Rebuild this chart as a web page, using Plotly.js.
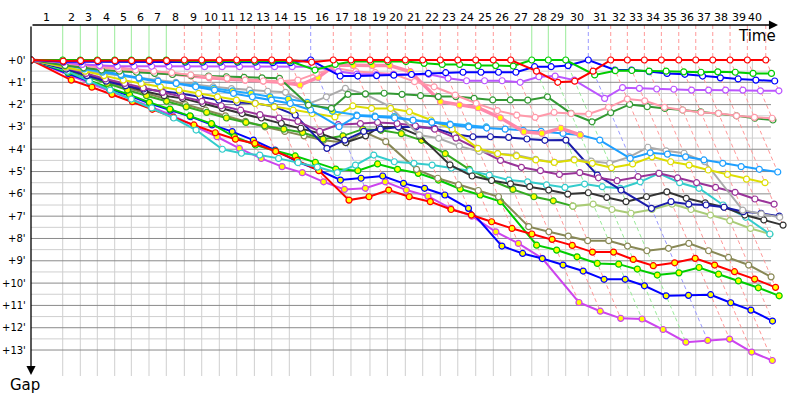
<!DOCTYPE html>
<html><head><meta charset="utf-8">
<script src="https://cdn.plot.ly/plotly-3.0.1.min.js"></script>
<style>html,body{margin:0;padding:0;background:#fff}#chart{width:800px;height:400px}</style>
</head><body><div id="chart"></div>
<script>
// Leader's elapsed time (minutes) at the end of each lap 1..40
const lapTimes = [3.34,5.19,6.98,8.81,10.56,12.42,14.24,16.14,17.97,19.82,
  21.65,23.51,25.34,27.19,29.44,31.82,33.68,35.68,37.51,39.40,
  41.23,43.08,44.92,46.81,48.66,50.49,52.71,54.45,56.28,58.66,
  61.02,62.77,64.56,66.35,68.18,69.97,71.76,73.58,75.40,77.34];
const raceEnd = 75.93;
const lapLabels = ['1','2','3','4','5','6','7','8','9','10','11','12','13','14','15','16','17','18','19','20',
  '21','22','23','24','25','26','27','28','29','30','31','32','33','34','35','36','37','38','39','40'];
const gapTicks = [0,1,2,3,4,5,6,7,8,9,10,11,12,13];
const gapTickText = ["+0'","+1'","+2'","+3'","+4'","+5'","+6'","+7'","+8'","+9'","+10'","+11'","+12'","+13'"];

// Gap to leader (minutes) per lap, index = lap number (0 = start)
const redGap = [0,0.05,0.03,0.03,0.03,0.03,0.03,0.03,0,0,0,0,0,0,0,0.1,0,0,0,0,0,0,0,0,0,0,0,0.5,1.0,0.95,0.5,0,0,0,0,0,0,0,0,0,0];
const greenGap = [0,0,0,0,0,0,0,0,0.05,0.05,0.05,0.05,0.05,0.05,0.05,0.45,0.2,0.07,0.07,0.07,0.07,0.15,0.2,0.2,0.25,0.25,0.27,0,0,0,0.67,0.48,0.47,0.5,0.5,0.53,0.55,0.53,0.55,0.6,0.6];
const blueGap = [0,0.08,0.08,0.08,0.08,0.08,0.08,0.08,0.1,0.1,0.1,0.1,0.1,0.12,0.12,0,0.72,0.72,0.7,0.68,0.65,0.6,0.57,0.55,0.55,0.55,0.55,0.3,0.3,0.25,0,0.45,0.45,0.52,0.6,0.64,0.72,0.8,0.85,0.9,0.94];
const violetGap = [0,0.1,0.2,0.25,0.28,0.28,0.28,0.28,0.3,0.3,0.3,0.3,0.3,0.3,0.3,0.3,0.52,0.63,0.65,0.65,0.65,0.64,0.82,0.93,0.93,0.93,1.0,0.75,0.72,0.9,1.72,1.24,1.27,1.3,1.31,1.35,1.35,1.35,1.35,1.38,1.38];
const pinkWGap = [0,0.1,0.2,0.3,0.4,0.45,0.5,0.57,0.67,0.75,0.82,0.9,0.94,0.95,0.9,0.6,0.37,0.52,0.57,0.63,0.97,1.2,1.57,1.94,2.27,2.47,2.57,2.35,2.4,2.42,2.12,1.75,1.83,2.12,2.24,2.35,2.39,2.5,2.57,2.61];
const pinkYGap = [0,0.15,0.25,0.3,0.37,0.45,0.57,0.65,0.72,0.8,0.85,0.9,0.95,1.0,1.12,0.78,0.22,0.25,0.25,0.25,0.52,1.87,2.02,2.14,2.59,3.22,3.29,3.06,3.36];
const darkGreenGap = [0,0.25,0.35,0.45,0.5,0.55,0.6,0.65,0.7,0.72,0.75,0.78,0.8,0.82,2.02,2.17,1.54,1.52,1.49,1.54,1.6,1.64,1.64,1.72,1.79,1.79,1.8,1.65,2.39,2.77,2.36,1.99,2.09,2.17,2.24,2.32,2.39,2.5,2.61,2.69];
const grayGap = [0,0.35,0.5,0.6,0.7,0.8,0.9,1.0,1.1,1.2,1.28,1.35,1.4,1.45,1.97,1.65,1.27,1.54,2.09,3.36,3.51,3.86,4.1,4.2,4.26,4.45,4.59,4.45,4.53,4.63,4.34,3.91,4.07,4.18,4.56,6.73,6.9,7.05];
const skyWGap = [0,0.2,0.35,0.5,0.65,0.8,0.95,1.05,1.2,1.35,1.5,1.65,1.8,1.95,2.24,2.99,2.5,2.55,2.6,2.7,2.8,2.9,3.0,3.05,3.1,3.15,3.2,3.29,3.36,3.59,4.41,4.16,4.22,4.34,4.48,4.63,4.78,4.9,5.02];
const skyYGap = [0,0.2,0.4,0.55,0.7,0.85,0.97,1.04,1.15,1.27,1.38,1.5,1.65,1.75,1.9,2.3,2.47,2.51,2.54,2.69,2.77,2.87,2.95,3.0];
const yellowGap = [0,0.3,0.5,0.7,0.9,1.05,1.2,1.35,1.5,1.65,1.8,1.95,2.1,2.25,2.4,2.55,2.06,2.17,2.17,2.32,2.69,3.1,3.96,4.2,4.3,4.48,4.59,4.48,4.63,4.83,4.66,4.34,4.56,4.71,4.93,5.13,5.34,5.5];
const navyGap = [0,0.4,0.7,0.95,1.15,1.3,1.4,1.5,1.65,1.8,1.9,1.94,2.09,2.47,3.96,3.59,3.2,3.1,3.0,3.0,3.06,3.33,3.44,3.44,3.47,3.54,3.6,3.59,5.16,5.83,6.65,6.35,6.46,6.5,6.6,6.8,6.87,7.0];
const purpleGap = [0,0.35,0.6,0.85,1.05,1.25,1.45,1.65,1.85,2.05,2.25,2.45,2.6,2.75,3.2,2.9,2.85,2.8,2.85,2.95,3.1,3.5,4.0,4.5,4.81,4.96,5.13,5.05,5.28,5.41,5.23,5.08,5.28,5.5,5.71,5.93,6.23,6.46];
const tealGap = [0,0.5,0.95,1.35,1.75,2.15,2.6,3.14,4.0,4.18,4.26,4.41,4.6,4.8,5.05,4.71,4.26,4.56,4.63,4.71,4.84,4.96,5.16,5.38,5.46,5.6,5.71,5.56,5.68,5.75,5.46,5.08,5.5,5.75,6.5,7.05,7.8];
const blackGap = [0,0.4,0.65,0.9,1.15,1.4,1.6,1.72,1.95,2.17,2.4,2.6,2.84,3.06,3.3,3.7,3.4,3.0,3.0,3.4,4.7,5.2,5.4,5.55,5.68,5.83,6.01,5.95,6.16,6.35,6.13,5.91,6.2,6.4,6.6,6.95,7.17,7.4];
const oliveGap = [0,0.45,0.75,1.0,1.25,1.5,1.75,2.0,2.25,2.5,2.75,3.0,3.2,3.4,3.6,3.71,3.22,3.66,4.9,5.3,5.6,5.85,6.13,7.47,7.7,7.89,8.1,8.1,8.34,8.55,8.44,8.22,8.55,8.85,9.19,9.72];
const forestYGap = [0,0.45,0.75,1.05,1.35,1.6,1.85,2.1,2.35,2.6,2.8,2.95,3.1,3.25,3.55,3.4,3.1,3.15,3.3,3.6,4.2,4.9,5.4,5.8,6.13,6.31,6.55];
const lightGreenGap = [6.55,6.46,6.7,6.87,6.7,6.46,6.7,6.95,7.2,7.55,7.8]; // laps 26..36
const redYGap = [0,0.9,1.22,1.54,1.87,2.21,2.57,2.91,3.26,3.55,3.74,4.1,4.5,4.96,6.28,6.13,5.83,6.13,6.35,6.7,6.95,7.25,7.55,7.8,8.04,8.31,8.61,8.61,8.94,9.22,9.09,8.89,9.19,9.49,9.82,10.19];
const greenYGap = [0,0.55,0.9,1.25,1.55,1.9,2.2,2.5,2.85,3.44,3.81,4.07,4.3,4.59,4.89,4.96,4.66,4.9,5.08,5.38,5.78,6.05,6.35,8.3,8.52,8.82,9.12,9.15,9.37,9.64,9.54,9.3,9.6,9.9,10.21,10.57];
const blueYGap = [0,0.6,0.95,1.3,1.6,1.95,2.25,2.54,2.91,3.21,3.59,4.04,4.56,4.93,5.38,5.3,5.2,5.53,5.75,6.05,6.65,8.34,8.67,8.9,9.19,9.46,9.83,9.83,10.12,10.57,10.55,10.52,10.88,11.21,11.7];
const purpleYGap = [0,0.7,1.05,1.4,1.75,2.1,2.5,2.95,3.44,3.96,4.41,4.78,5.05,5.46,5.8,5.75,5.46,5.83,6.1,6.65,7.0,7.7,8.22,8.89,10.87,11.26,11.58,11.61,12.08,12.65,12.57,12.51,13.09,13.47];

// drawing order: bottom first, leader last
const series = [
  {gaps: purpleYGap, start: 0, color: '#cc44ee', fill: '#ffff00', width: 2},
  {gaps: blueYGap, start: 0, color: '#0000ff', fill: '#ffff00', width: 2},
  {gaps: greenYGap, start: 0, color: '#00cc00', fill: '#ffff00', width: 2},
  {gaps: redYGap, start: 0, color: '#ff0000', fill: '#ffff00', width: 2},
  {gaps: oliveGap, start: 0, color: '#888855', fill: '#ffffff', width: 2},
  {gaps: forestYGap, start: 0, color: '#33aa22', fill: '#ffff00', width: 2},
  {gaps: lightGreenGap, start: 26, color: '#aacc77', fill: '#ffffff', width: 2},
  {gaps: tealGap, start: 0, color: '#33cccc', fill: '#ffffff', width: 2},
  {gaps: blackGap, start: 0, color: '#333333', fill: '#ffffff', width: 2},
  {gaps: navyGap, start: 0, color: '#1a1aaa', fill: '#ffffff', width: 2},
  {gaps: purpleGap, start: 0, color: '#993399', fill: '#ffffff', width: 2},
  {gaps: grayGap, start: 0, color: '#aaaaaa', fill: '#ffffff', width: 2},
  {gaps: yellowGap, start: 0, color: '#dddd00', fill: '#ffffff', width: 2},
  {gaps: skyYGap, start: 0, color: '#22aaff', fill: '#ffff00', width: 2},
  {gaps: skyWGap, start: 0, color: '#1e9fff', fill: '#ffffff', width: 2},
  {gaps: pinkYGap, start: 0, color: '#ff88aa', fill: '#ffff00', width: 3.5},
  {gaps: darkGreenGap, start: 0, color: '#339933', fill: '#ffffff', width: 2},
  {gaps: pinkWGap, start: 0, color: '#ff99aa', fill: '#ffffff', width: 2},
  {gaps: violetGap, start: 0, color: '#bb55ff', fill: '#ffffff', width: 2},
  {gaps: blueGap, start: 0, color: '#0000ff', fill: '#ffffff', width: 2},
  {gaps: greenGap, start: 0, color: '#00cc00', fill: '#ffffff', width: 2},
  {gaps: redGap, start: 0, color: '#ff0000', fill: '#ffffff', width: 2}
];

const Y_TOP = -1.569, Y_BOT = 14.164, X_MAX = 79.89, H_END = 77.89, ARROW_X = 78.63;

function lapTime(n) { return n === 0 ? 0 : lapTimes[n - 1]; }
function lighten(hex, k) {
  const r = parseInt(hex.slice(1,3),16), g = parseInt(hex.slice(3,5),16), b = parseInt(hex.slice(5,7),16);
  const m = v => Math.round(v + (255 - v) * k);
  return 'rgb(' + m(r) + ',' + m(g) + ',' + m(b) + ')';
}

const traces = series.map(s => {
  const x = [], y = [];
  s.gaps.forEach((g, j) => { const n = s.start + j; x.push(lapTime(n) + g); y.push(g); });
  return {type: 'scatter', mode: 'lines+markers', x: x, y: y, hoverinfo: 'skip',
    line: {color: s.color, width: s.width},
    marker: {size: 6, color: s.fill, line: {color: s.color, width: 1.2}}};
});

const shapes = [];
// vertical lap grid
const gridTimes = lapTimes.slice(0, 39).concat([raceEnd]);
gridTimes.forEach(t => shapes.push({type: 'line', layer: 'below', x0: t, x1: t, y0: 0, y1: Y_BOT,
  line: {color: '#cfcfcf', width: 1}}));
// horizontal gap grid
for (let k = 0; k <= 13; k++) {
  shapes.push({type: 'line', layer: 'below', x0: 0, x1: H_END, y0: k, y1: k, line: {color: '#8a8a8a', width: 1}});
  if (k < 13) shapes.push({type: 'line', layer: 'below', x0: 0, x1: H_END, y0: k + 0.5, y1: k + 0.5, line: {color: '#cfcfcf', width: 1}});
}
// lap lines coloured by the lap leader
for (let n = 1; n <= 40; n++) {
  let best = null, bestG = Infinity, maxG = 0;
  series.forEach(s => {
    const j = n - s.start;
    if (j >= 0 && j < s.gaps.length) {
      const g = s.gaps[j];
      if (g < bestG) { bestG = g; best = s; }
      if (g > maxG) maxG = g;
    }
  });
  const c = lighten(best.color, 0.6);
  const topDash = best.color === '#00cc00' ? 'solid' : '4px,3px';
  const t = lapTime(n);
  shapes.push({type: 'line', layer: 'below', x0: t, x1: t, y0: Y_TOP, y1: 0, line: {color: c, width: 1, dash: topDash}});
  shapes.push({type: 'line', layer: 'below', x0: t, x1: t + maxG, y0: 0, y1: maxG, line: {color: c, width: 1, dash: '4px,3px'}});
}

const FONT = 'DejaVu Sans, Verdana, sans-serif';
const annotations = [];
const bounds = [0].concat(gridTimes);
lapLabels.forEach((lab, i) => {
  const a = {x: (bounds[i] + bounds[i + 1]) / 2, y: 1, xref: 'x', yref: 'paper', yanchor: 'bottom',
    text: lab, showarrow: false, font: {family: FONT, size: 11, color: '#000'}, yshift: -1};
  if (i === 38) { a.x = bounds[i + 1]; a.xanchor = 'right'; a.xshift = 1; }
  if (i === 39) { a.x = bounds[i]; a.xanchor = 'left'; a.xshift = -1; }
  annotations.push(a);
});
gapTicks.forEach((v, i) => {
  annotations.push({x: 0, y: v, xref: 'x', yref: 'y', xanchor: 'right', xshift: -3,
    text: gapTickText[i], showarrow: false, font: {family: FONT, size: 10, color: '#000'}});
});
annotations.push({x: ARROW_X, y: Y_TOP, ax: 0, ay: Y_TOP, xref: 'x', yref: 'y', axref: 'x', ayref: 'y',
  text: '', showarrow: true, arrowhead: 2, arrowsize: 1.4, arrowwidth: 1.3, arrowcolor: '#000', standoff: 0});
annotations.push({x: 0, y: 14.12, ax: 0, ay: Y_TOP, xref: 'x', yref: 'y', axref: 'x', ayref: 'y',
  text: '', showarrow: true, arrowhead: 2, arrowsize: 1.4, arrowwidth: 1.3, arrowcolor: '#000', standoff: 0});
annotations.push({x: ARROW_X, y: -1.08, xref: 'x', yref: 'y', xanchor: 'right', text: 'Time', showarrow: false,
  font: {family: FONT, size: 15, color: '#000'}});
annotations.push({x: -0.008, y: -0.026, xref: 'paper', yref: 'paper', xanchor: 'center', yanchor: 'middle',
  text: 'Gap', showarrow: false, font: {family: FONT, size: 15, color: '#000'}});

const layout = {
  width: 800, height: 400,
  margin: {l: 31, r: 10, t: 25, b: 24, pad: 0},
  paper_bgcolor: '#fff', plot_bgcolor: '#fff',
  showlegend: false, hovermode: false,
  xaxis: {range: [0, X_MAX], showgrid: false, zeroline: false, showticklabels: false, showline: false, ticks: ''},
  yaxis: {range: [Y_BOT, Y_TOP], showgrid: false, zeroline: false, showticklabels: false, showline: false, ticks: ''},
  shapes: shapes, annotations: annotations
};
Plotly.newPlot('chart', traces, layout, {displayModeBar: false, staticPlot: true});
</script></body></html>
